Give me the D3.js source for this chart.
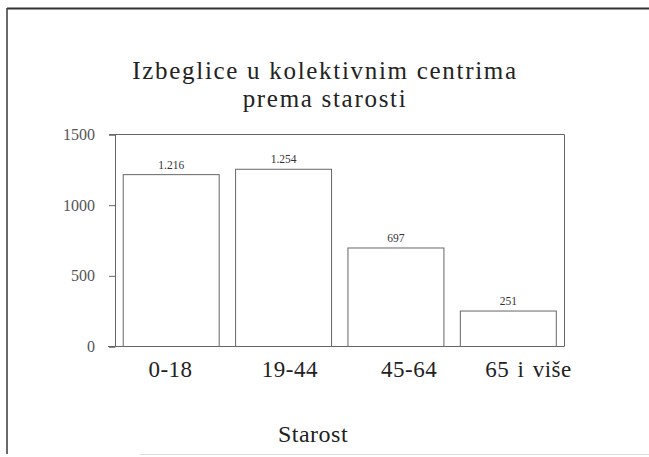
<!DOCTYPE html>
<html><head><meta charset="utf-8">
<script src="https://cdn.jsdelivr.net/npm/d3@7"></script>
<style>body{margin:0;background:#fff}svg{display:block}</style>
</head><body>
<script>
const categories = ["0-18", "19-44", "45-64", "65 i više"];
const values = [1216, 1254, 697, 251];
const valueLabels = ["1.216", "1.254", "697", "251"];
const yTicks = [0, 500, 1000, 1500];
const titleLines = ["Izbeglice u kolektivnim centrima", "prema starosti"];
const xTitle = "Starost";

(function () {
const W = 649, H = 457;
const svg = d3.select("body").append("svg").attr("width", W).attr("height", H);
const font = "'Liberation Serif', 'DejaVu Serif', serif";

// outer frame (scanned page look)
svg.append("line").attr("x1", 7).attr("x2", W).attr("y1", 8.5).attr("y2", 8.5).attr("stroke", "#333").attr("stroke-width", 2);
svg.append("line").attr("x1", 7).attr("x2", 7).attr("y1", 8).attr("y2", 454).attr("stroke", "#444").attr("stroke-width", 1.6);
svg.append("line").attr("x1", 140).attr("x2", W).attr("y1", 454.5).attr("y2", 454.5).attr("stroke", "#ddd").attr("stroke-width", 1);

const pLeft = 115, pRight = 564.5, pTop = 134.5, pBottom = 346.5;
const x = d3.scaleBand().domain(categories).range([pLeft, pRight]).paddingInner(0.146).paddingOuter(0.073);
// category labels are spread slightly wider than the bars in the original
const xLab = d3.scalePoint().domain(categories).range([170, 528]);
const y = d3.scaleLinear().domain([0, 1500]).range([pBottom, pTop]);

// title
svg.append("g").selectAll("text").data(titleLines).join("text")
  .attr("x", 325).attr("y", (d, i) => 79 + i * 28).attr("text-anchor", "middle")
  .attr("font-family", font).attr("font-size", 25).attr("letter-spacing", 1.7).attr("fill", "#222")
  .text(d => d);

// plot frame top & right
svg.append("line").attr("x1", pLeft - 6).attr("x2", pRight).attr("y1", y(1500)).attr("y2", y(1500)).attr("stroke", "#666");
svg.append("line").attr("x1", pRight).attr("x2", pRight).attr("y1", y(1500)).attr("y2", y(0)).attr("stroke", "#666");

// y axis
const yAxis = svg.append("g").attr("transform", `translate(${pLeft},0)`)
  .call(d3.axisLeft(y).tickValues(yTicks).tickSize(6).tickFormat(d3.format("d")).tickPadding(14));
yAxis.select(".domain").attr("stroke", "#666");
yAxis.selectAll(".tick line").attr("stroke", "#666");
yAxis.selectAll("text").attr("font-family", font).attr("font-size", 16).attr("fill", "#555");

// x axis labels
const xAxis = svg.append("g").attr("transform", `translate(0,${pBottom})`)
  .call(d3.axisBottom(xLab).tickSize(0).tickPadding(14));
xAxis.select(".domain").remove();
xAxis.selectAll("text").attr("font-family", font).attr("font-size", 23)
  .attr("letter-spacing", 0.5).attr("word-spacing", 2).attr("fill", "#222");
svg.append("line").attr("x1", pLeft - 7).attr("x2", pRight).attr("y1", pBottom).attr("y2", pBottom).attr("stroke", "#666");

// bars
svg.append("g").selectAll("rect").data(values).join("rect")
  .attr("x", (d, i) => x(categories[i]))
  .attr("y", d => y(d))
  .attr("width", x.bandwidth())
  .attr("height", d => y(0) - y(d))
  .attr("fill", "#fff").attr("stroke", "#666").attr("stroke-width", 1);

// value labels
svg.append("g").selectAll("text").data(values).join("text")
  .attr("x", (d, i) => x(categories[i]) + x.bandwidth() / 2)
  .attr("y", d => y(d) - 6)
  .attr("text-anchor", "middle")
  .attr("font-family", font).attr("font-size", 11.5).attr("fill", "#333")
  .text((d, i) => valueLabels[i]);

// x title
svg.append("text").attr("x", 313).attr("y", 442).attr("text-anchor", "middle")
  .attr("font-family", font).attr("font-size", 24).attr("letter-spacing", 0.5).attr("fill", "#222").text(xTitle);
})();
</script>
</body></html>
